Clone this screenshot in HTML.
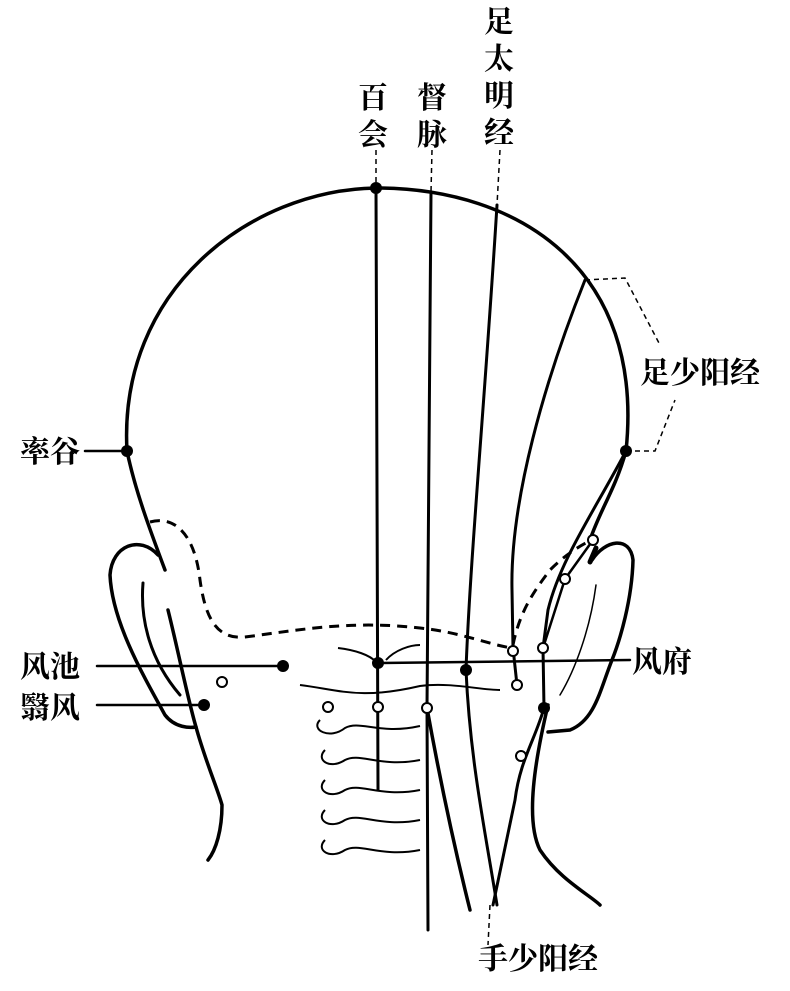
<!DOCTYPE html>
<html><head><meta charset="utf-8"><style>
body{margin:0;background:#fff}
svg{display:block}
text{font-family:"Liberation Serif","Noto Serif CJK SC","Noto Sans CJK SC",serif;font-weight:bold;font-size:30px;fill:#000}
</style></head><body>
<svg width="790" height="991" viewBox="0 0 790 991" xmlns="http://www.w3.org/2000/svg">
<g fill="none" stroke="#000" stroke-width="3.5" stroke-linecap="round">
<path d="M127,451 C118,290 250,190 376,188 C520,188 645,270 626,451"/>
<path d="M127,451 C135,490 150,530 165,570"/>
<path d="M626,451 C615,490 600,510 590,540"/>
<path d="M158,555 C140,535 112,545 110,575 C112,620 140,670 165,715 C175,728 190,728 196,727"/>
<path d="M143,583 C140,620 150,660 180,695" stroke-width="3"/>
<path d="M168,610 C178,650 188,700 196,727 C205,760 218,790 222,805 C222,830 216,850 208,860"/>
<path d="M592,560 C605,540 630,535 633,560 C632,600 620,640 612,660 C600,690 595,720 570,730 L548,732"/>
<path d="M596,548 L590,562" stroke-width="5"/>
<path d="M596,585 C590,630 575,670 560,695" stroke-width="1.5"/>
<path d="M548,705 C535,760 525,820 540,850 C560,880 590,895 600,905"/>
<path d="M376,188 L378,790" stroke-width="3"/>
<path d="M431,192 C430,400 428,600 427,708 L428,930" stroke-width="3"/>
<path d="M497,205 C485,400 470,560 466,670 C470,760 485,830 497,905" stroke-width="3"/>
<path d="M427,708 C440,780 455,850 470,910" stroke-width="3.5"/>
<path d="M585,280 C545,380 510,500 512,590 L513,648 L517,685" stroke-width="3"/>
<path d="M626,451 C595,510 560,560 548,610 L543,648 L544,708 C535,740 520,760 515,800 L493,905" stroke-width="3"/>
<path d="M593,540 L565,579 L543,648" stroke-width="2.5"/>
<path d="M97,666 L283,666" stroke-width="2.5"/>
<path d="M97,705 L204,705" stroke-width="2.5"/>
<path d="M378,663 L630,660" stroke-width="2.5"/>
<path d="M85,451 L127,451" stroke-width="2.5"/>
</g>
<g fill="none" stroke="#000" stroke-width="3" stroke-dasharray="10,7">
<path d="M150,522 C175,515 195,535 200,580 C205,615 215,640 245,637 C300,630 350,620 420,628 C460,632 490,645 512,648"/>
<path d="M513,645 C520,610 535,590 550,570 C565,555 580,545 598,537"/>
</g>
<g fill="none" stroke="#000" stroke-width="1.5" stroke-dasharray="5,4">
<path d="M376,150 L376,188"/>
<path d="M432,150 L431,192"/>
<path d="M500,150 L497,205"/>
<path d="M585,280 L625,278 L660,345"/>
<path d="M626,451 L655,451 L675,400"/>
<path d="M490,905 L488,945"/>
</g>
<g fill="none" stroke="#000" stroke-width="2">
<path d="M300,685 C340,690 360,700 420,686 C450,682 480,690 500,690"/>
<path d="M320,720 C310,730 330,740 345,728 C360,720 380,735 420,726"/>
<path d="M325,750 C315,760 330,770 345,760 C360,752 380,768 420,760"/>
<path d="M325,780 C315,790 330,800 345,790 C360,782 380,798 420,790"/>
<path d="M325,810 C315,820 330,830 345,820 C360,812 380,828 420,820"/>
<path d="M325,840 C315,850 330,860 345,850 C360,842 380,858 420,850"/>
<path d="M338,648 C355,650 370,655 376,662 M386,660 C395,650 410,645 420,645"/>
</g>
<g fill="#000">
<circle cx="376" cy="188" r="6"/><circle cx="127" cy="451" r="6"/><circle cx="626" cy="451" r="6"/>
<circle cx="283" cy="666" r="6"/><circle cx="378" cy="663" r="6"/><circle cx="466" cy="670" r="6"/>
<circle cx="204" cy="705" r="6"/><circle cx="544" cy="708" r="6"/>
</g>
<g fill="#fff" stroke="#000" stroke-width="2">
<circle cx="222" cy="682" r="5"/><circle cx="328" cy="707" r="5"/><circle cx="378" cy="707" r="5"/>
<circle cx="427" cy="708" r="5"/><circle cx="517" cy="685" r="5"/><circle cx="543" cy="648" r="5"/>
<circle cx="513" cy="651" r="5"/><circle cx="565" cy="579" r="5"/><circle cx="593" cy="540" r="5"/>
<circle cx="521" cy="756" r="5"/>
</g>
<text x="358" y="108">百</text><text x="358" y="145">会</text>
<text x="417" y="108">督</text><text x="417" y="145">脉</text>
<text x="484" y="32">足</text><text x="484" y="69">太</text><text x="484" y="106">明</text><text x="484" y="143">经</text>
<text x="20" y="462">率谷</text>
<text x="20" y="677">风池</text>
<text x="20" y="718">翳风</text>
<text x="632" y="672">风府</text>
<text x="640" y="383">足少阳经</text>
<text x="478" y="969">手少阳经</text>
</svg>
</body></html>
